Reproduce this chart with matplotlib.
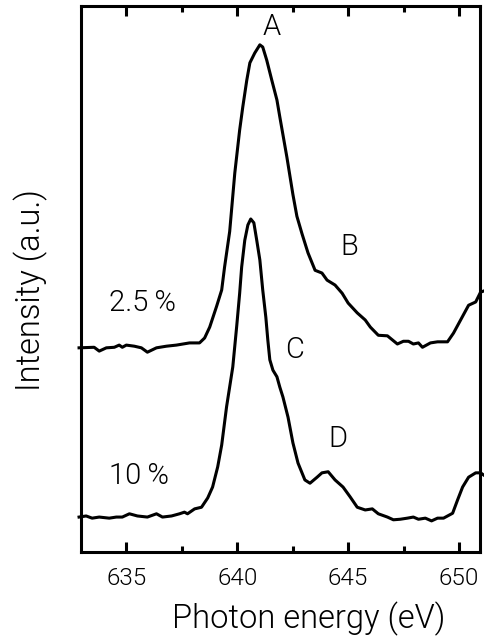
import numpy as np
import matplotlib
matplotlib.use("Agg")
import matplotlib.pyplot as plt
from matplotlib.ticker import MultipleLocator

plt.rcParams['font.family'] = ['Roboto', 'DejaVu Sans']
plt.rcParams['font.weight'] = 300
plt.rcParams['axes.labelweight'] = 300

# ---- data ----
# upper spectrum (2.5 %)
e_25 = [632.87, 633.55, 633.78, 634.10, 634.46, 634.68, 634.82, 635.00, 635.36, 635.68,
        635.95, 636.36, 636.81, 637.26, 637.85, 638.30, 638.53, 638.76, 639.07, 639.30,
        639.43, 639.66, 639.89, 640.11, 640.25, 640.43, 640.57, 640.79, 641.02, 641.15,
        641.33, 641.56, 641.79, 641.92, 642.24, 642.51, 642.69, 642.92, 643.19, 643.51,
        643.82, 644.05, 644.41, 644.73, 645.00, 645.41, 645.77, 646.00, 646.36, 646.77,
        647.22, 647.49, 647.72, 647.94, 648.17, 648.35, 648.71, 649.03, 649.48, 649.75,
        650.07, 650.43, 650.75, 650.97, 651.11]
i_25 = [37.4, 37.5, 36.8, 37.4, 37.5, 37.9, 37.5, 37.9, 37.7, 37.4,
        36.6, 37.4, 37.7, 37.9, 38.3, 38.3, 39.2, 41.2, 45.0, 48.0,
        52.2, 58.7, 69.4, 77.3, 81.5, 86.4, 89.6, 91.4, 92.9, 92.5,
        90.1, 86.4, 82.8, 79.7, 72.3, 65.5, 61.5, 58.3, 54.8, 51.6,
        51.1, 49.8, 48.9, 47.4, 45.6, 43.8, 42.5, 41.2, 39.7, 39.6,
        38.1, 38.6, 38.6, 38.1, 38.3, 37.5, 38.3, 38.5, 38.5, 40.1,
        42.5, 45.2, 45.8, 47.6, 47.8]

# lower spectrum (10 %)
e_10 = [632.87, 633.19, 633.46, 633.78, 634.23, 634.55, 634.82, 635.14, 635.50, 635.95,
        636.36, 636.63, 637.04, 637.40, 637.62, 637.76, 638.08, 638.39, 638.67, 638.89,
        639.12, 639.30, 639.52, 639.80, 639.98, 640.11, 640.20, 640.34, 640.48, 640.61,
        640.75, 640.88, 641.02, 641.15, 641.29, 641.38, 641.47, 641.61, 641.79, 641.92,
        642.06, 642.29, 642.51, 642.74, 643.05, 643.28, 643.60, 643.82, 644.10, 644.41,
        644.77, 645.09, 645.41, 645.77, 646.09, 646.36, 646.77, 647.04, 647.35, 647.67,
        647.94, 648.17, 648.48, 648.76, 649.03, 649.30, 649.71, 649.93, 650.16, 650.43,
        650.75, 650.97, 651.11]
i_10 = [6.4, 6.6, 6.2, 6.4, 6.2, 6.4, 6.4, 7.0, 6.6, 6.4,
        7.0, 6.4, 6.6, 7.0, 7.3, 7.0, 7.9, 8.2, 9.9, 11.9,
        15.6, 19.6, 26.6, 33.9, 41.5, 47.4, 52.2, 57.1, 59.9, 61.0,
        60.3, 57.1, 53.5, 48.0, 43.0, 38.8, 35.2, 33.3, 32.1, 30.2,
        28.4, 24.7, 20.0, 16.3, 13.2, 12.6, 13.7, 14.5, 14.7, 13.2,
        11.9, 10.1, 8.2, 7.7, 7.9, 7.0, 6.4, 5.9, 6.0, 6.2,
        6.4, 6.0, 6.2, 5.7, 6.2, 6.2, 7.1, 9.5, 11.9, 13.7,
        14.5, 14.5, 14.1]

peak_labels = ['A', 'B', 'C', 'D']
peak_e = [641.56, 645.05, 642.60, 644.55]
peak_i = [96.2, 55.9, 37.0, 20.7]

conc_labels = ['2.5\u2009%', '10\u2009%']
conc_e = [634.23, 634.23]
conc_i = [45.6, 13.9]

# ---- plot ----
fig = plt.figure(figsize=(4.84, 6.40), dpi=100)
ax = fig.add_axes([0.167, 0.1375, 0.825, 0.853])

ax.plot(e_25, i_25, color='black', lw=2.2, clip_on=False, solid_joinstyle='round')
ax.plot(e_10, i_10, color='black', lw=2.2, clip_on=False, solid_joinstyle='round')

for lab, x, y in zip(peak_labels, peak_e, peak_i):
    ax.text(x, y, lab, fontsize=21, ha='center', va='center')
for lab, x, y in zip(conc_labels, conc_e, conc_i):
    ax.text(x, y, lab, fontsize=21, ha='left', va='center')

ax.set_xlim(632.95, 650.95)
ax.set_ylim(0, 100)
ax.xaxis.set_major_locator(MultipleLocator(5))
ax.xaxis.set_minor_locator(MultipleLocator(2.5))
ax.set_yticks([])
ax.tick_params(axis='x', which='both', direction='in', top=True, bottom=True,
               width=2.2, labelsize=17.5, pad=11)
ax.tick_params(axis='x', which='major', length=7.5)
ax.tick_params(axis='x', which='minor', length=4.5)
for s in ax.spines.values():
    s.set_linewidth(2.2)

ax.set_xlabel('Photon energy (eV)', fontsize=23.5)
ax.set_ylabel('Intensity (a.u.)', fontsize=23.5)
ax.xaxis.set_label_coords(0.57, -0.09)
ax.yaxis.set_label_coords(-0.082, 0.48)

fig.savefig('out.png', dpi=100)
